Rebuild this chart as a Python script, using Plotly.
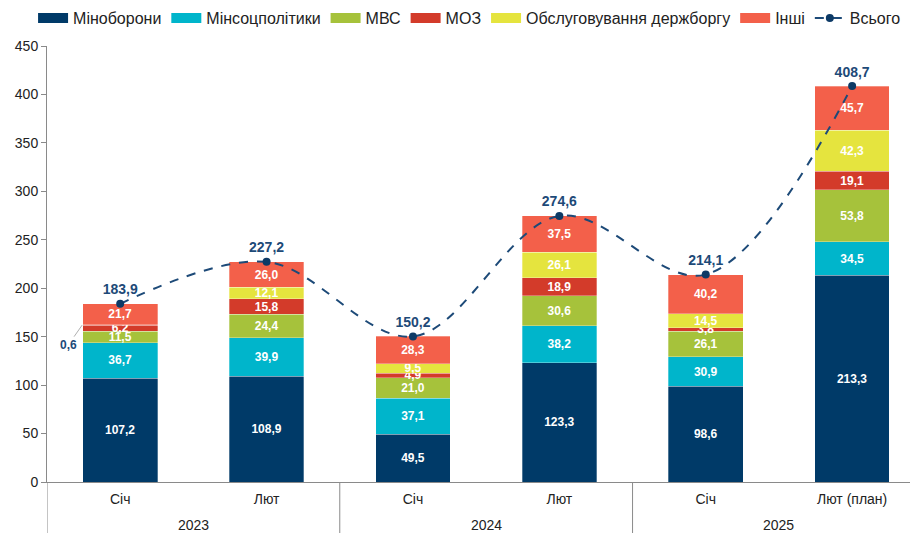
import plotly.graph_objects as go

years = ["2023", "2023", "2024", "2024", "2025", "2025"]
months = ["Січ", "Лют", "Січ", "Лют", "Січ", "Лют (план)"]

minoborony = [107.2, 108.9, 49.5, 123.3, 98.6, 213.3]
minsoc = [36.7, 39.9, 37.1, 38.2, 30.9, 34.5]
mvs = [11.5, 24.4, 21.0, 30.6, 26.1, 53.8]
moz = [6.2, 15.8, 4.9, 18.9, 3.8, 19.1]
borg = [0.6, 12.1, 9.5, 26.1, 14.5, 42.3]
inshi = [21.7, 26.0, 28.3, 37.5, 40.2, 45.7]
total = [183.9, 227.2, 150.2, 274.6, 214.1, 408.7]

series = [
    ("Міноборони", minoborony, "#003a68"),
    ("Мінсоцполітики", minsoc, "#00b5cb"),
    ("МВС", mvs, "#a6c23b"),
    ("МОЗ", moz, "#d33b2a"),
    ("Обслуговування держборгу", borg, "#e5e43e"),
    ("Інші", inshi, "#f3604a"),
]

def fmt(v):
    return f"{v:.1f}".replace(".", ",")

FONT = "Liberation Sans, Arial, sans-serif"
AXC = "#8a8a8a"

idx = list(range(len(months)))
fig = go.Figure()
for name, vals, col in series:
    texts = ["" if v < 1 else "<b>" + fmt(v) + "</b>" for v in vals]
    fig.add_trace(go.Bar(
        name=name, x=idx, y=vals, legendgroup=name, showlegend=False,
        marker=dict(color=col, line=dict(color="rgba(255,255,255,0.6)", width=0.5)),
        text=texts, textposition="inside", insidetextanchor="middle",
        textfont=dict(color="white", size=12, family=FONT),
        hoverinfo="skip", cliponaxis=False,
    ))
    # legend swatch (wide rectangle like the reference)
    fig.add_trace(go.Scatter(
        name=name, x=[None], y=[None], mode="lines", legendgroup=name,
        line=dict(color=col, width=10), hoverinfo="skip",
    ))

fig.add_trace(go.Scatter(
    name="Всього", x=idx, y=total, mode="lines+markers+text",
    line=dict(color="#1d4a78", width=2, dash="dash", shape="spline", smoothing=1.0),
    marker=dict(color="#0d3a66", size=8),
    text=["<b>" + fmt(v) + "</b>" for v in total], textposition="top center",
    textfont=dict(color="#1d4a78", size=14, family=FONT),
    cliponaxis=False,
))

fig.add_annotation(
    x=-0.26, y=minoborony[0] + minsoc[0] + mvs[0] + moz[0] + borg[0] / 2, xref="x", yref="y",
    text="<b>" + fmt(borg[0]) + "</b>", showarrow=True, arrowhead=0, arrowwidth=1,
    arrowcolor="#b0b0b0", ax=-14, ay=20,
    font=dict(color="#1d4a78", size=12, family=FONT),
)

# year group labels and dividers
groups = []
for i, yv in enumerate(years):
    if not groups or groups[-1][0] != yv:
        groups.append([yv, i, i])
    else:
        groups[-1][2] = i
for yv, a, b in groups:
    fig.add_annotation(x=(a + b) / 2, y=-0.0986, xref="x", yref="paper", text=yv,
                       showarrow=False, yanchor="middle",
                       font=dict(size=14, family=FONT, color="#222"))
    fig.add_shape(type="line", xref="x", yref="paper", x0=a - 0.5, x1=a - 0.5, y0=0, y1=-0.2,
                  line=dict(color=AXC, width=1))

fig.update_layout(
    width=910, height=525,
    margin=dict(l=39, r=0, t=38, b=51, autoexpand=False),
    barmode="stack", bargap=0.49,
    plot_bgcolor="white", paper_bgcolor="white",
    font=dict(family=FONT, size=14, color="#222"),
    uniformtext=dict(minsize=12, mode="show"),
    legend=dict(orientation="h", x=-0.016, y=1.064, xanchor="left", yanchor="middle",
                font=dict(size=16, family=FONT), itemwidth=30, tracegroupgap=0,
                traceorder="normal"),
    xaxis=dict(range=[-0.5, 5.45], showline=True, linecolor=AXC, showgrid=False, zeroline=False,
               tickmode="array", tickvals=idx, ticktext=months, ticks="",
               ticklabelstandoff=4,
               tickfont=dict(size=14, family=FONT, color="#222")),
    yaxis=dict(range=[0, 450], dtick=50, showline=True, linecolor=AXC, ticks="outside",
               ticklen=5, tickcolor=AXC, showgrid=False, zeroline=False,
               tickfont=dict(size=14, family=FONT, color="#222")),
)

fig.write_html("out.html")
